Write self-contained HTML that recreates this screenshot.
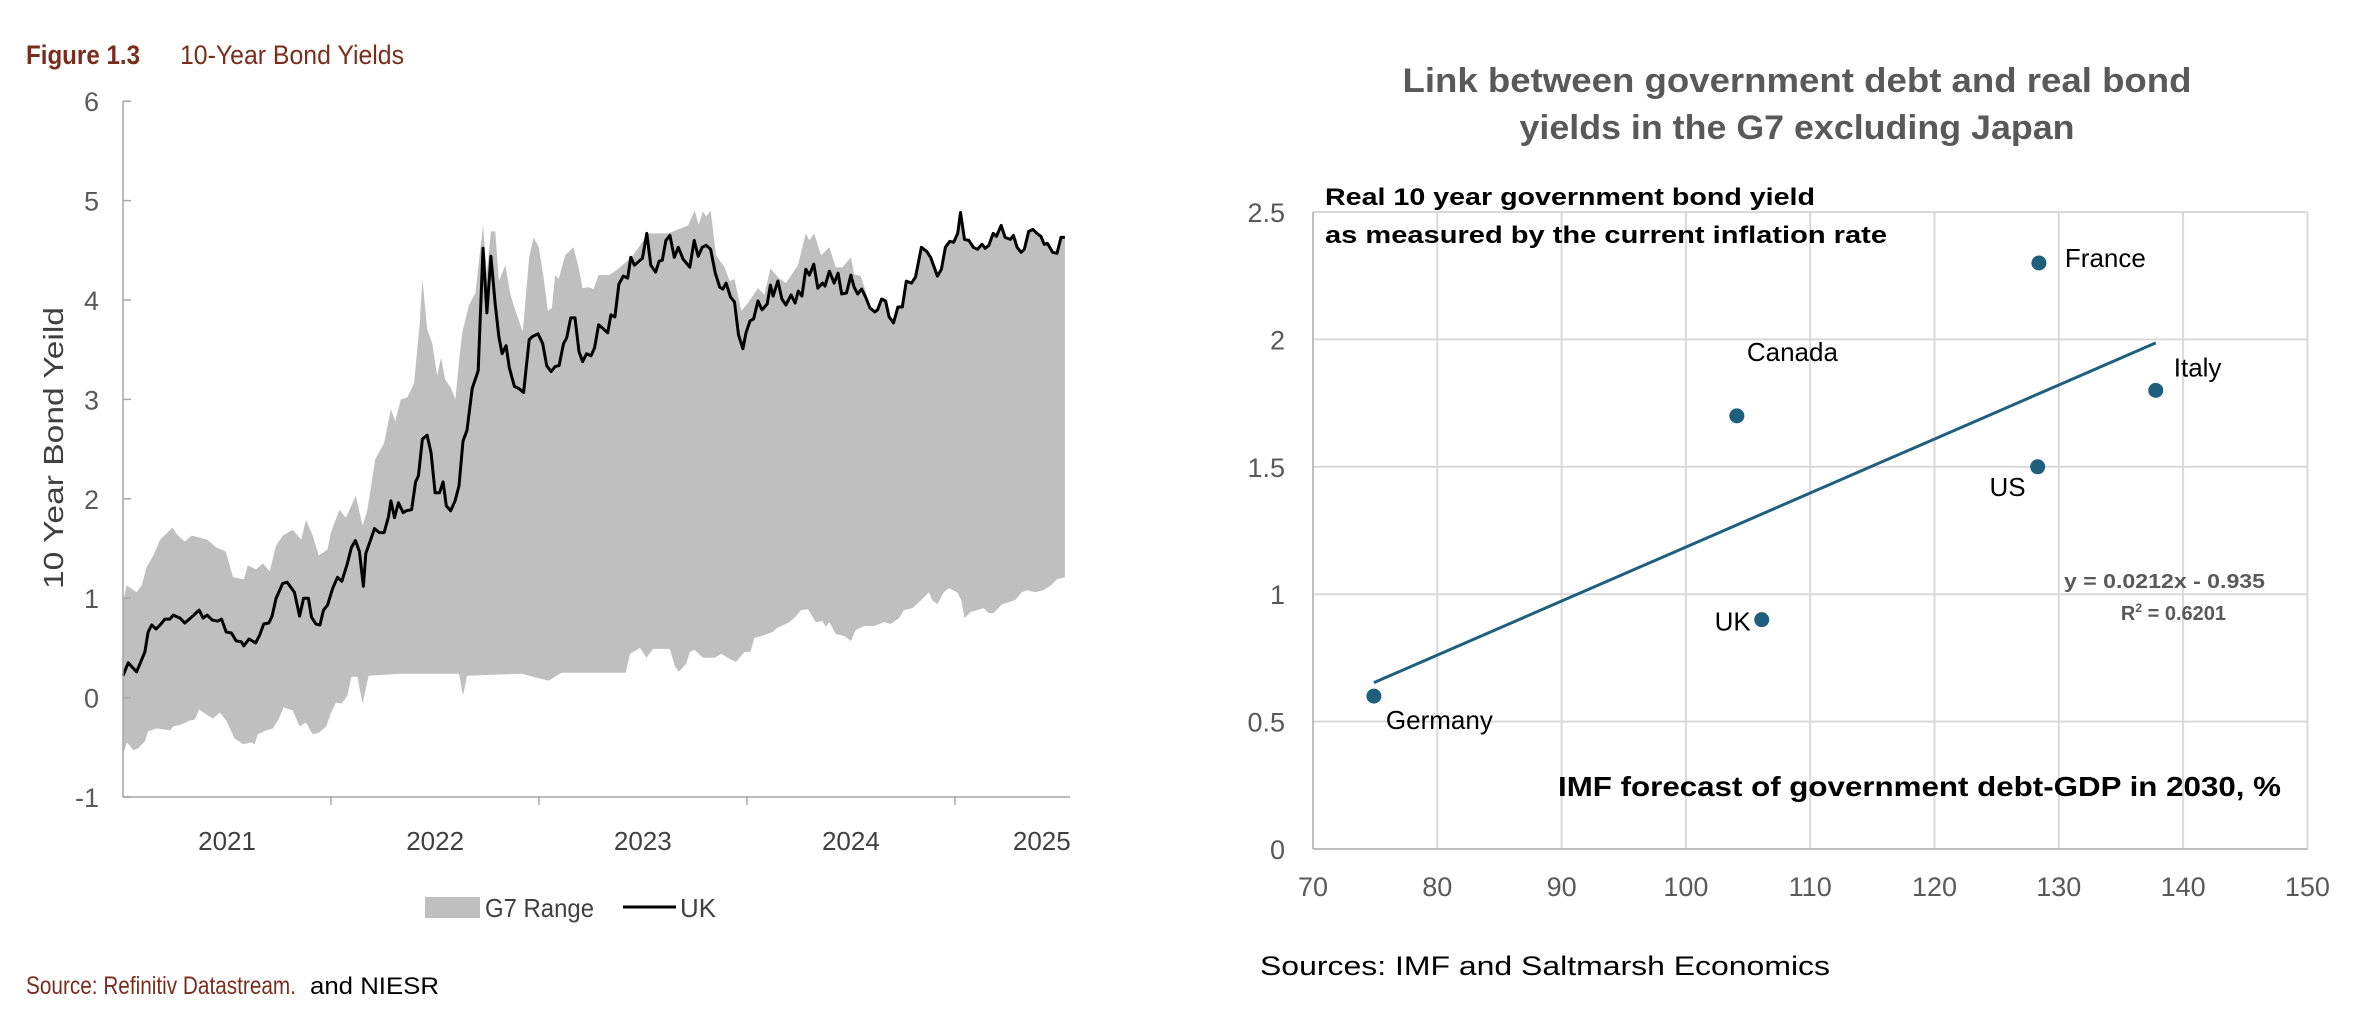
<!DOCTYPE html>
<html><head><meta charset="utf-8"><style>
html,body{margin:0;padding:0;background:#fff;width:2372px;height:1032px;overflow:hidden}
svg{display:block}
text{font-family:"Liberation Sans",sans-serif}
</style></head><body>
<svg id="svg" width="2372" height="1032" viewBox="0 0 2372 1032" xmlns="http://www.w3.org/2000/svg">
<g id="left">
<text x="26" y="64" font-size="27" font-weight="bold" fill="#7b2d1d" textLength="114" lengthAdjust="spacingAndGlyphs">Figure 1.3</text>
<text x="180" y="64" font-size="27" fill="#7b2d1d" textLength="224" lengthAdjust="spacingAndGlyphs">10-Year Bond Yields</text>
<text transform="translate(63,448) rotate(-90)" text-anchor="middle" font-size="28" fill="#404040" textLength="282" lengthAdjust="spacingAndGlyphs">10 Year Bond Yeild</text>
<g id="lband"></g>
<g id="lline"></g>
<g id="laxes"></g>
<g>
<rect x="425" y="897" width="55" height="21" fill="#bfbfbf"/>
<text x="485" y="917" font-size="26" fill="#404040" textLength="109" lengthAdjust="spacingAndGlyphs">G7 Range</text>
<line x1="623" y1="907" x2="676" y2="907" stroke="#000" stroke-width="3"/>
<text x="680" y="917" font-size="26" fill="#404040" textLength="36" lengthAdjust="spacingAndGlyphs">UK</text>
</g>
<text x="26" y="994" font-size="25" fill="#7b2d1d" textLength="270" lengthAdjust="spacingAndGlyphs">Source: Refinitiv Datastream.</text>
<text x="310" y="994" font-size="24" fill="#000" textLength="129" lengthAdjust="spacingAndGlyphs">and NIESR</text>
</g>
<g id="right">
<text x="1797" y="92" text-anchor="middle" font-size="34" font-weight="bold" fill="#595959" textLength="789" lengthAdjust="spacingAndGlyphs">Link between government debt and real bond</text>
<text x="1797" y="139" text-anchor="middle" font-size="34" font-weight="bold" fill="#595959" textLength="555" lengthAdjust="spacingAndGlyphs">yields in the G7 excluding Japan</text>
<g id="rgrid"></g>
<g id="rmarks"></g>
<text x="1325" y="205" font-size="24" font-weight="bold" fill="#000" textLength="490" lengthAdjust="spacingAndGlyphs">Real 10 year government bond yield</text>
<text x="1325" y="243" font-size="24" font-weight="bold" fill="#000" textLength="562" lengthAdjust="spacingAndGlyphs">as measured by the current inflation rate</text>
<text x="1558" y="796" font-size="28" font-weight="bold" fill="#000" textLength="723" lengthAdjust="spacingAndGlyphs">IMF forecast of government debt-GDP in 2030, %</text>
<text x="2265" y="588" text-anchor="end" font-size="20" font-weight="bold" fill="#595959" textLength="201" lengthAdjust="spacingAndGlyphs">y = 0.0212x - 0.935</text>
<text x="2226" y="620" text-anchor="end" font-size="20" font-weight="bold" fill="#595959">R<tspan font-size="12" dy="-8">2</tspan><tspan dy="8"> = 0.6201</tspan></text>
<text x="1260" y="975" font-size="27" fill="#000" textLength="570" lengthAdjust="spacingAndGlyphs">Sources: IMF and Saltmarsh Economics</text>
</g>
</svg>
<script>
// ---- Left chart data (weeks since 1 Jan 2021, yield %) ----
const ukWeeks=[0,1.3,3.4,5.5,6.3,7.2,8.3,9.3,10.5,11.8,12.6,14.3,15.5,17.2,19.1,20.1,21.1,22.4,23.8,24.7,25.9,27.2,28.4,29.7,30.3,31.6,33.3,34.3,35.3,36.6,37.4,38.4,40.1,41.2,43,44.3,45.3,46.5,47.3,48.4,49.4,50.3,51.3,52.6,53.8,54.9,56.3,57.3,58.3,59.3,60.3,60.9,61.9,63.1,64.3,65.5,66.6,67.2,68.1,69.1,70.3,71.1,72.4,73.4,74.1,75.1,76.3,77.3,78.3,79.4,80.3,81.1,82.2,83.3,84.3,85.3,86.3,87.6,89.1,90.3,91.3,92.3,93.4,94.3,95.1,96.1,96.9,98.2,99.3,100.5,101.9,102.6,104.1,105.3,106.3,107.4,108.4,109.4,110.5,111.3,112.3,113.4,114.4,115.3,116.3,117.4,118.3,119.3,121.6,122.4,123.4,124.4,125.5,126.6,127.4,128.3,130.3,131.4,132.4,133.6,134.5,135.3,136.2,137.2,138.3,139.3,140.5,142.2,143.3,144.3,145.3,146.3,147.4,148.6,149.7,150.5,151.3,152.4,153.4,154.4,155.5,156.3,157.3,158.2,159.3,160.3,161.6,162.4,163.1,164.3,165.3,166.3,167.6,168.6,169.4,170.3,171.3,172.2,173.3,174.3,175.5,176.1,177.2,178.4,179.4,180.3,181.5,182.6,183.4,184.3,185.3,186.3,187.4,188.6,189.3,190.3,191.3,192.2,193.3,194.4,195.5,196.5,197.8,198.8,200.3,201.6,202.6,204.3,205.3,206.3,207.4,208.4,209.4,210.1,211.1,212.2,213.3,214.4,215.5,216.3,217.2,218.3,219.1,220.3,221.3,222.6,223.4,224.3,225.3,226.1,227.2,228.3,229.3,230.3,231.1,231.9,233.2,234.3,235.3,236.3];
const ukYield=[0.22,0.35,0.26,0.46,0.66,0.73,0.69,0.73,0.79,0.79,0.83,0.80,0.75,0.81,0.88,0.80,0.83,0.78,0.77,0.79,0.66,0.65,0.57,0.56,0.52,0.59,0.55,0.63,0.74,0.75,0.82,1.00,1.15,1.16,1.06,0.82,1.00,1.00,0.81,0.74,0.73,0.88,0.93,1.10,1.21,1.17,1.35,1.51,1.58,1.47,1.12,1.45,1.56,1.70,1.66,1.66,1.82,1.98,1.81,1.96,1.86,1.88,1.89,2.17,2.23,2.60,2.64,2.46,2.06,2.06,2.17,1.93,1.88,1.98,2.13,2.58,2.69,3.11,3.29,4.52,3.87,4.44,3.95,3.63,3.46,3.54,3.32,3.13,3.11,3.07,3.60,3.63,3.66,3.56,3.34,3.28,3.33,3.34,3.56,3.62,3.82,3.82,3.48,3.38,3.46,3.44,3.52,3.75,3.67,3.85,3.83,4.16,4.24,4.22,4.43,4.35,4.42,4.67,4.35,4.28,4.39,4.40,4.60,4.65,4.43,4.53,4.41,4.33,4.60,4.44,4.53,4.55,4.51,4.27,4.13,4.11,4.17,4.03,3.98,3.65,3.51,3.67,3.79,3.81,3.99,3.90,3.96,4.15,4.04,4.19,4.01,3.95,4.05,3.97,4.09,4.04,4.31,4.25,4.36,4.12,4.17,4.14,4.29,4.17,4.27,4.06,4.07,4.25,4.13,4.06,4.11,4.03,3.92,3.88,3.90,4.01,3.99,3.83,3.77,3.93,3.93,4.19,4.17,4.23,4.53,4.49,4.43,4.24,4.31,4.53,4.59,4.58,4.67,4.88,4.61,4.60,4.53,4.51,4.56,4.52,4.55,4.67,4.64,4.75,4.63,4.61,4.65,4.53,4.48,4.51,4.69,4.71,4.67,4.64,4.56,4.57,4.48,4.47,4.63,4.63];
const hiWeeks=[0,0.9,3.4,4.7,5.9,7.6,9.3,10.9,12.4,13.8,15.5,17.2,19.3,21.1,23.4,25.8,27.6,30.3,31.3,33.4,35.1,36.8,38.4,40.1,42.6,44.7,45.9,47.6,49.1,51.3,52.2,54.3,55.9,58.4,60.1,61.3,63.3,65.5,67.2,68.3,69.7,71.3,73,74.4,75.1,76.3,77.6,78.8,79.8,80.8,82.2,83.4,84.4,85.1,86.8,88.4,90.3,91.3,92.3,93.4,94.3,95.9,97.2,98.8,100.3,101.9,103,104.3,105.5,106.6,107.6,108.4,109.3,110.9,113,114.3,115.3,116.8,118,119.3,121.9,123.4,124.7,127.6,131.8,136.8,141.8,143.4,144.4,145.5,146.3,147.4,148.8,150.9,152.2,153.4,155.1,156.8,159.3,160.9,162.4,164.3,166.3,169.3,171.3,172.2,173.4,175.1,177.2,178.8,180.5,182.6,183.4,185.1,186.3,187.4,188.6,189.3,190.3,191.3,192.2,193.3,194.4,195.5,196.5,197.8,198.8,200.3,201.6,202.6,204.3,205.3,206.3,207.4,208.4,209.4,210.1,211.1,212.2,213.3,214.4,215.5,216.3,217.2,218.3,219.1,220.3,221.3,222.6,223.4,224.3,225.3,226.1,227.2,228.3,229.3,230.3,231.1,231.9,233.2,234.3,235.3,236.3];
const hiYield=[0.96,1.13,1.06,1.13,1.31,1.43,1.59,1.65,1.71,1.63,1.57,1.63,1.61,1.59,1.51,1.47,1.21,1.19,1.33,1.29,1.35,1.27,1.53,1.63,1.69,1.59,1.79,1.63,1.43,1.49,1.67,1.89,1.81,2.03,1.73,1.89,2.40,2.56,2.90,2.78,3.00,3.02,3.16,3.75,4.21,3.71,3.56,3.24,3.42,3.20,3.12,3.00,3.42,3.67,3.95,4.07,4.75,4.27,4.69,4.69,4.19,4.35,4.05,3.85,3.68,4.43,4.63,4.53,4.23,3.89,3.92,4.25,4.21,4.45,4.53,4.33,4.12,4.13,4.11,4.25,4.25,4.29,4.33,4.43,4.67,4.67,4.75,4.90,4.76,4.89,4.84,4.90,4.45,4.33,4.19,4.21,3.89,3.97,4.12,4.05,4.32,4.23,4.17,4.35,4.67,4.60,4.67,4.45,4.53,4.33,4.33,4.43,4.26,4.24,4.09,3.92,3.88,3.90,4.01,3.99,3.83,3.77,3.93,3.93,4.19,4.17,4.23,4.53,4.49,4.43,4.24,4.31,4.53,4.59,4.58,4.67,4.88,4.61,4.60,4.53,4.51,4.56,4.52,4.55,4.67,4.64,4.75,4.63,4.61,4.65,4.53,4.48,4.51,4.69,4.71,4.67,4.64,4.56,4.57,4.48,4.47,4.63,4.63];
const loWeeks=[0,1,2.6,3.8,5.5,6.3,8.4,11.8,12.6,14.7,16.8,18,19.1,20.9,22.6,24.3,25.9,28,30.1,32.2,33,33.8,35.9,37.6,39.1,40.3,42.6,44.3,45.9,47.6,49.3,51,52,53.4,54.9,56.3,57.3,58.8,60.1,61.6,70,84.3,85.3,86.3,100,106.8,110,126.1,127.2,129.7,131.3,133,137.2,138.4,139.4,141.3,142.2,143.4,145.5,148.4,150.1,152.6,153.8,155.9,157.4,158.4,160.9,163,164.1,166.8,168.4,170.1,171.8,173.8,175.5,176.3,177.2,178.8,180.9,182.6,183.8,185.9,188.4,190.9,192.6,194.7,195.9,198,199.7,202.2,203,204.3,205.9,207.2,209.3,210.3,211.1,212.6,215.9,217.2,218.4,220.5,223.8,225.5,226.8,228.8,230.9,232.8,234.3,236.3];
const loYield=[-0.57,-0.45,-0.53,-0.51,-0.44,-0.34,-0.31,-0.33,-0.29,-0.27,-0.23,-0.22,-0.12,-0.17,-0.21,-0.15,-0.23,-0.41,-0.47,-0.45,-0.47,-0.37,-0.33,-0.31,-0.21,-0.10,-0.13,-0.29,-0.25,-0.37,-0.35,-0.29,-0.17,-0.05,-0.06,0.02,0.21,0.21,-0.06,0.22,0.24,0.24,0.02,0.22,0.24,0.17,0.25,0.25,0.44,0.50,0.40,0.49,0.49,0.32,0.26,0.34,0.46,0.48,0.40,0.40,0.44,0.38,0.36,0.46,0.46,0.60,0.63,0.66,0.70,0.75,0.80,0.88,0.89,0.76,0.77,0.71,0.76,0.64,0.62,0.57,0.68,0.72,0.72,0.76,0.74,0.80,0.88,0.90,0.96,1.06,0.98,0.94,1.06,1.10,1.06,0.98,0.80,0.86,0.90,0.85,0.85,0.94,0.98,1.06,1.08,1.06,1.08,1.13,1.19,1.21];
const leftYTicks=[6,5,4,3,2,1,0,-1];
const yearLabels=["2021","2022","2023","2024","2025"];
const yearStartWeeks=[0,52.18,104.36,156.54,208.72];
const yearLabelWeeks=[26.1,78.3,130.4,182.6,230.5];

// ---- Right chart data ----
const countries=["France","Canada","Italy","US","UK","Germany"];
const debtGdp=[128.4,104.1,137.8,128.3,106.1,74.9];
const realYield=[2.3,1.7,1.8,1.5,0.9,0.6];
const rightXTicks=[70,80,90,100,110,120,130,140,150];
const rightYTicks=[0,0.5,1,1.5,2,2.5];
const trendSlope=0.0212, trendIntercept=-0.935;

const NS="http://www.w3.org/2000/svg";
function mk(tag,attrs,parent,txt){const e=document.createElementNS(NS,tag);for(const k in attrs)e.setAttribute(k,attrs[k]);if(txt!==undefined)e.textContent=txt;parent.appendChild(e);return e;}

const LX0=123, LPX_PER_WEEK=208/52.18, LY0=797, LPX_PER_UNIT=99.4;
const lx=w=>LX0+w*LPX_PER_WEEK;
const ly=v=>LY0-(v+1)*LPX_PER_UNIT;

const band=document.getElementById('lband');
let pts=[];
for(let i=0;i<hiWeeks.length;i++)pts.push(lx(hiWeeks[i]).toFixed(1)+','+ly(hiYield[i]).toFixed(1));
for(let i=loWeeks.length-1;i>=0;i--)pts.push(lx(loWeeks[i]).toFixed(1)+','+ly(loYield[i]).toFixed(1));
const poly=mk('polygon',{points:pts.join(' '),fill:'#bfbfbf'},band);



const lineG=document.getElementById('lline');
const ukPts=ukWeeks.map((w,i)=>lx(w).toFixed(1)+','+ly(ukYield[i]).toFixed(1)).join(' ');
const ukl=mk('polyline',{points:ukPts,fill:'none',stroke:'#000','stroke-width':3,'stroke-linejoin':'round'},lineG);



const lax=document.getElementById('laxes');
mk('line',{x1:LX0,y1:ly(6),x2:LX0,y2:LY0,stroke:'#a6a6a6','stroke-width':1.5},lax);
mk('line',{x1:LX0,y1:LY0,x2:1070,y2:LY0,stroke:'#a6a6a6','stroke-width':1.5},lax);
leftYTicks.forEach(v=>{
  mk('line',{x1:LX0,y1:ly(v),x2:LX0+8,y2:ly(v),stroke:'#a6a6a6','stroke-width':1.5},lax);
  const t=mk('text',{x:99,y:ly(v)+10,'text-anchor':'end','font-size':27,fill:'#595959'},lax,String(v));
  
  
});
yearStartWeeks.forEach((w,i)=>{
  if(i>0) mk('line',{x1:lx(w),y1:LY0,x2:lx(w),y2:LY0+8,stroke:'#a6a6a6','stroke-width':1.5},lax);
  const t=mk('text',{x:lx(yearLabelWeeks[i]),y:850,'text-anchor':'middle','font-size':26,fill:'#404040'},lax,yearLabels[i]);
  
  
});

const RX0=1313, RPX=12.43, RY0=849, RPY=254.8;
const rx=v=>RX0+(v-70)*RPX;
const ry=v=>RY0-v*RPY;
const grid=document.getElementById('rgrid');
rightYTicks.forEach(v=>{
  mk('line',{x1:rx(70),y1:ry(v),x2:rx(150),y2:ry(v),stroke:'#d9d9d9','stroke-width':2},grid);
  const t=mk('text',{x:1285,y:ry(v)+10,'text-anchor':'end','font-size':27,fill:'#595959'},grid,String(v));
  
  
});
rightXTicks.forEach(v=>{
  mk('line',{x1:rx(v),y1:ry(0),x2:rx(v),y2:ry(2.5),stroke:'#d9d9d9','stroke-width':2},grid);
  const t=mk('text',{x:rx(v),y:896,'text-anchor':'middle','font-size':27,fill:'#595959'},grid,String(v));
  
  
});
mk('line',{x1:rx(70),y1:ry(0),x2:rx(70),y2:ry(2.5),stroke:'#bfbfbf','stroke-width':2},grid);
mk('line',{x1:rx(70),y1:ry(0),x2:rx(150),y2:ry(0),stroke:'#bfbfbf','stroke-width':2},grid);

const rm=document.getElementById('rmarks');
const xmin=Math.min(...debtGdp), xmax=Math.max(...debtGdp);
const tl=mk('line',{x1:rx(xmin),y1:ry(trendSlope*xmin+trendIntercept),x2:rx(xmax),y2:ry(trendSlope*xmax+trendIntercept),stroke:'#1f5f7e','stroke-width':3},rm);


const labelOff={France:[26,-5,'start'],Canada:[10,-64,'start'],Italy:[18,-23,'start'],US:[-12,20,'end'],UK:[-11,2,'end'],Germany:[12,24,'start']};
countries.forEach((c,i)=>{
  const cx=rx(debtGdp[i]), cy=ry(realYield[i]);
  const d=mk('circle',{cx:cx,cy:cy,r:7.5,fill:'#1f5f7e'},rm);
  
  
  const o=labelOff[c];
  const t=mk('text',{x:cx+o[0],y:cy+o[1]+9,'text-anchor':o[2],'font-size':26,fill:'#000'},rm,c);
  
  
});
</script>
</body></html>
